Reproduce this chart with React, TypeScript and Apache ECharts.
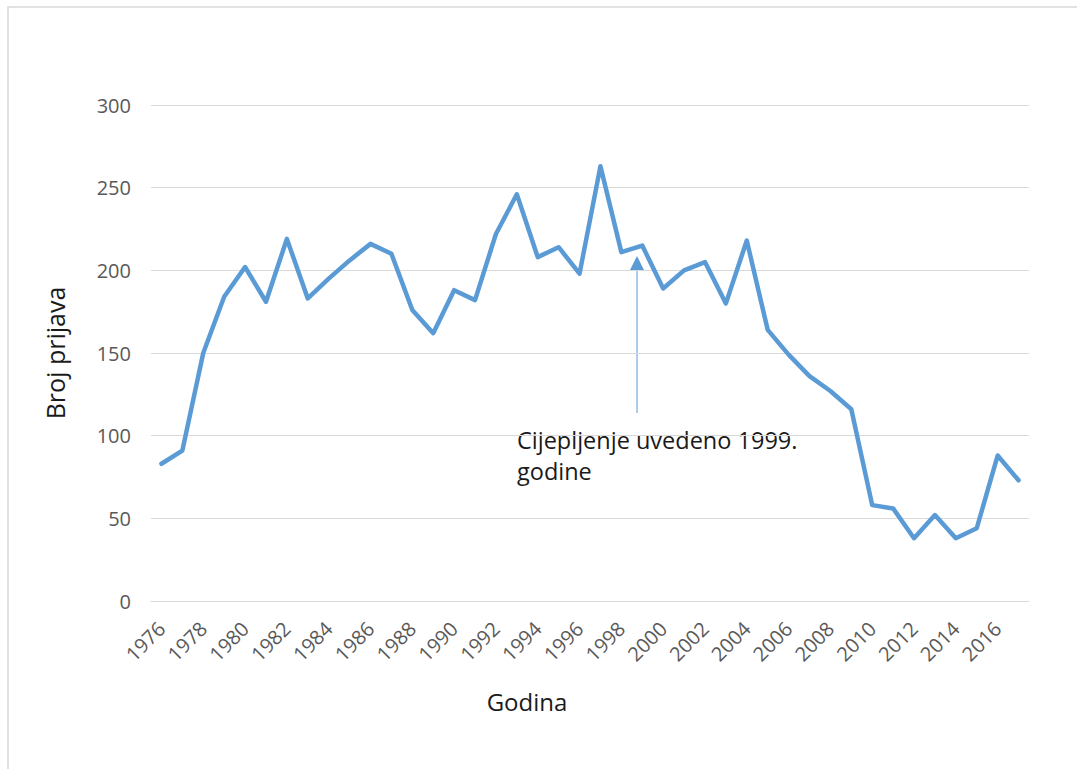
import React, { useEffect, useRef } from "react";
import * as echarts from "echarts";

const years: string[] = [
  "1976","1977","1978","1979","1980","1981","1982","1983","1984","1985",
  "1986","1987","1988","1989","1990","1991","1992","1993","1994","1995",
  "1996","1997","1998","1999","2000","2001","2002","2003","2004","2005",
  "2006","2007","2008","2009","2010","2011","2012","2013","2014","2015",
  "2016","2017",
];

const cases: number[] = [
  83, 91, 150, 184, 202, 181, 219, 183, 195, 206,
  216, 210, 176, 162, 188, 182, 222, 246, 208, 214,
  198, 263, 211, 215, 189, 200, 205, 180, 218, 164,
  149, 136, 127, 116, 58, 56, 38, 52, 38, 44,
  88, 73,
];

const yTicks = { min: 0, max: 300, interval: 50 };
const yAxisTitle = "Broj prijava";
const xAxisTitle = "Godina";
const annotationText = "Cijepljenje uvedeno 1999.\ngodine";

export default function App() {
  const ref = useRef<HTMLDivElement>(null);

  useEffect(() => {
    if (!ref.current) return;
    const chart = echarts.init(ref.current, null, { renderer: "svg" });
    const font = "'Open Sans', 'Noto Sans', sans-serif";
    chart.setOption({
      animation: false,
      backgroundColor: "#ffffff",
      grid: { left: 151, right: 48, top: 105, bottom: 168 },
      xAxis: {
        type: "category",
        data: years,
        boundaryGap: true,
        axisLine: { show: true, lineStyle: { color: "#d9d9d9", width: 1 } },
        axisTick: { show: false },
        axisLabel: {
          interval: 1,
          rotate: 45,
          margin: 24,
          color: "#595959",
          fontSize: 20,
          fontFamily: font,
        },
        name: xAxisTitle,
        nameLocation: "middle",
        nameGap: 88,
        nameTextStyle: {
          color: "#1a1a1a",
          fontSize: 24,
          fontFamily: font,
          padding: [0, 126, 0, 0],
        },
      },
      yAxis: {
        type: "value",
        min: yTicks.min,
        max: yTicks.max,
        interval: yTicks.interval,
        axisLine: { show: false },
        axisTick: { show: false },
        splitLine: { lineStyle: { color: "#d9d9d9", width: 1 } },
        axisLabel: {
          margin: 20,
          color: "#595959",
          fontSize: 20,
          fontFamily: font,
        },
        name: yAxisTitle,
        nameLocation: "middle",
        nameRotate: 90,
        nameGap: 84,
        nameTextStyle: { color: "#1a1a1a", fontSize: 25, fontFamily: font },
      },
      series: [
        {
          type: "line",
          data: cases,
          symbol: "none",
          lineStyle: { color: "#5B9BD5", width: 4.5, cap: "round", join: "round" },
          itemStyle: { color: "#5B9BD5" },
        },
      ],
      graphic: [
        {
          type: "rect",
          shape: { x: 8, y: 7, width: 1100, height: 800 },
          style: { fill: "none", stroke: "#d9d9d9", lineWidth: 1.5 },
          silent: true,
        },
        {
          type: "line",
          shape: { x1: 637, y1: 413, x2: 637, y2: 266 },
          style: { stroke: "#5B9BD5", lineWidth: 1 },
        },
        {
          type: "polygon",
          shape: { points: [[630, 270], [644, 270], [637, 256]] },
          style: { fill: "#5B9BD5" },
        },
        {
          type: "text",
          x: 517,
          y: 424,
          style: {
            text: annotationText,
            fill: "#1a1a1a",
            fontSize: 23.5,
            fontFamily: font,
            lineHeight: 31,
          },
        },
      ],
    });
    return () => chart.dispose();
  }, []);

  return (
    <div
      ref={ref}
      style={{ position: "fixed", left: 0, top: 0, width: 1077, height: 769, background: "#fff" }}
    />
  );
}
